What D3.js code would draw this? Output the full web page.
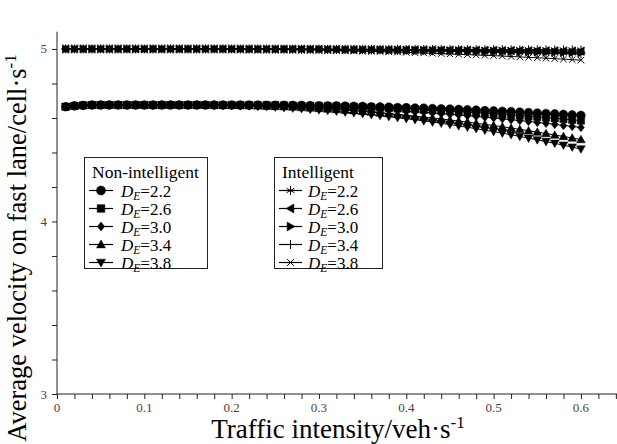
<!DOCTYPE html>
<html><head><meta charset="utf-8">
<script src="https://cdn.jsdelivr.net/npm/d3@7"></script>
<style>body{margin:0;background:#fff}svg{display:block}</style>
</head><body><svg id="c" width="617" height="444"></svg>
<script>
// ---- data ----
const traffic = [0.01,0.02,0.03,0.04,0.05,0.06,0.07,0.08,0.09,0.10,
 0.11,0.12,0.13,0.14,0.15,0.16,0.17,0.18,0.19,0.20,
 0.21,0.22,0.23,0.24,0.25,0.26,0.27,0.28,0.29,0.30,
 0.31,0.32,0.33,0.34,0.35,0.36,0.37,0.38,0.39,0.40,
 0.41,0.42,0.43,0.44,0.45,0.46,0.47,0.48,0.49,0.50,
 0.51,0.52,0.53,0.54,0.55,0.56,0.57,0.58,0.59,0.60];

const nonInt22 = [4.665,4.670,4.673,4.675,4.675,4.675,4.675,4.675,4.675,4.675,
 4.675,4.675,4.675,4.675,4.675,4.675,4.675,4.675,4.675,4.675,
 4.675,4.675,4.675,4.674,4.674,4.674,4.673,4.673,4.672,4.671,
 4.670,4.670,4.669,4.668,4.667,4.665,4.664,4.663,4.661,4.660,
 4.658,4.657,4.655,4.653,4.652,4.650,4.648,4.646,4.643,4.641,
 4.639,4.637,4.634,4.632,4.629,4.626,4.624,4.621,4.618,4.615];
const nonInt26 = [4.665,4.670,4.673,4.675,4.675,4.675,4.675,4.675,4.675,4.675,
 4.675,4.675,4.675,4.675,4.675,4.675,4.675,4.675,4.675,4.675,
 4.675,4.675,4.674,4.674,4.674,4.673,4.672,4.671,4.670,4.669,
 4.668,4.667,4.665,4.664,4.662,4.661,4.659,4.657,4.655,4.652,
 4.650,4.648,4.645,4.643,4.640,4.637,4.634,4.631,4.628,4.624,
 4.621,4.617,4.614,4.610,4.606,4.602,4.598,4.594,4.589,4.585];
const nonInt30 = [4.665,4.670,4.673,4.675,4.675,4.675,4.675,4.675,4.675,4.675,
 4.675,4.675,4.675,4.675,4.675,4.675,4.675,4.675,4.675,4.675,
 4.674,4.674,4.673,4.672,4.671,4.670,4.669,4.668,4.666,4.664,
 4.663,4.661,4.658,4.656,4.654,4.651,4.648,4.646,4.643,4.639,
 4.636,4.633,4.629,4.625,4.621,4.617,4.613,4.609,4.604,4.600,
 4.595,4.590,4.585,4.580,4.574,4.569,4.563,4.557,4.551,4.545];
const nonInt34 = [4.665,4.670,4.673,4.675,4.675,4.675,4.675,4.675,4.675,4.675,
 4.675,4.675,4.675,4.675,4.675,4.675,4.675,4.675,4.674,4.673,
 4.672,4.671,4.670,4.668,4.667,4.665,4.663,4.660,4.658,4.655,
 4.652,4.649,4.645,4.642,4.638,4.634,4.629,4.625,4.620,4.616,
 4.610,4.605,4.600,4.594,4.588,4.582,4.576,4.569,4.563,4.556,
 4.549,4.541,4.534,4.526,4.518,4.510,4.501,4.493,4.484,4.475];
const nonInt38 = [4.665,4.670,4.673,4.675,4.675,4.675,4.675,4.675,4.675,4.675,
 4.675,4.675,4.675,4.675,4.675,4.675,4.675,4.674,4.673,4.672,
 4.670,4.669,4.667,4.665,4.662,4.660,4.657,4.654,4.650,4.647,
 4.643,4.639,4.634,4.630,4.625,4.619,4.614,4.608,4.602,4.596,
 4.590,4.583,4.576,4.569,4.562,4.554,4.546,4.538,4.529,4.521,
 4.512,4.503,4.493,4.483,4.473,4.463,4.453,4.442,4.431,4.420];

const int22 = [5.000,5.000,5.000,5.000,5.000,5.000,5.000,5.000,5.000,5.000,
 5.000,5.000,5.000,5.000,5.000,5.000,5.000,5.000,5.000,5.000,
 5.000,5.000,5.000,5.000,5.000,5.000,5.000,5.000,5.000,5.000,
 4.999,4.999,4.999,4.999,4.999,4.999,4.999,4.999,4.999,4.998,
 4.998,4.998,4.998,4.998,4.998,4.998,4.997,4.997,4.997,4.997,
 4.997,4.996,4.996,4.996,4.996,4.996,4.995,4.995,4.995,4.995];
const int26 = [5.000,5.000,5.000,5.000,5.000,5.000,5.000,5.000,5.000,5.000,
 5.000,5.000,5.000,5.000,5.000,5.000,5.000,5.000,5.000,5.000,
 5.000,5.000,4.999,4.999,4.999,4.999,4.999,4.999,4.998,4.998,
 4.998,4.998,4.997,4.997,4.997,4.997,4.996,4.996,4.996,4.996,
 4.995,4.995,4.995,4.994,4.994,4.994,4.993,4.993,4.992,4.992,
 4.991,4.991,4.991,4.990,4.990,4.989,4.989,4.988,4.988,4.987];
const int30 = [5.000,5.000,5.000,5.000,5.000,5.000,5.000,5.000,5.000,5.000,
 5.000,5.000,5.000,5.000,5.000,5.000,5.000,5.000,5.000,5.000,
 5.000,4.999,4.999,4.999,4.999,4.999,4.998,4.998,4.998,4.998,
 4.997,4.997,4.996,4.996,4.996,4.995,4.995,4.994,4.994,4.993,
 4.993,4.992,4.991,4.991,4.990,4.990,4.989,4.988,4.987,4.987,
 4.986,4.985,4.984,4.983,4.983,4.982,4.981,4.980,4.979,4.978];
const int34 = [5.000,5.000,5.000,5.000,5.000,5.000,5.000,5.000,5.000,5.000,
 5.000,5.000,5.000,5.000,5.000,5.000,5.000,5.000,5.000,5.000,
 4.999,4.999,4.999,4.999,4.998,4.998,4.998,4.997,4.997,4.997,
 4.996,4.996,4.995,4.995,4.994,4.993,4.993,4.992,4.991,4.991,
 4.990,4.989,4.988,4.988,4.987,4.986,4.985,4.984,4.983,4.982,
 4.981,4.980,4.979,4.978,4.976,4.975,4.974,4.973,4.972,4.970];
const int38 = [5.000,5.000,5.000,5.000,5.000,5.000,5.000,5.000,5.000,5.000,
 5.000,5.000,5.000,5.000,5.000,5.000,5.000,5.000,4.999,4.999,
 4.999,4.998,4.998,4.997,4.997,4.996,4.995,4.995,4.994,4.993,
 4.992,4.991,4.990,4.988,4.987,4.986,4.985,4.983,4.982,4.980,
 4.978,4.977,4.975,4.973,4.971,4.969,4.967,4.965,4.963,4.961,
 4.959,4.956,4.954,4.951,4.949,4.946,4.944,4.941,4.938,4.935];

const legendLabels = ["2.2","2.6","3.0","3.4","3.8"];
const nonIntSeries = [nonInt22, nonInt26, nonInt30, nonInt34, nonInt38];
const intSeries = [int22, int26, int30, int34, int38];
const nonIntMarkers = ["circle","square","diamond","triUp","triDown"];
const intMarkers = ["asterisk","triLeft","triRight","plus","times"];
const xTickLabels = [0,0.1,0.2,0.3,0.4,0.5,0.6];
const yTickLabels = [3,4,5];

// ---- layout ----
const FONT = '"Liberation Serif"';
const svg = d3.select("#c");
const x = d3.scaleLinear().domain([0,0.65]).range([57,624.6]);
const y = d3.scaleLinear().domain([3,5.1]).range([394,31.7]);

function markerPath(type, r){
  switch(type){
    case "circle": return `M${-r},0A${r},${r} 0 1,0 ${r},0A${r},${r} 0 1,0 ${-r},0Z`;
    case "square": {const s=r*0.85; return `M${-s},${-s}H${s}V${s}H${-s}Z`;}
    case "diamond": {const s=r*1.0; return `M0,${-s}L${s*0.8},0L0,${s}L${-s*0.8},0Z`;}
    case "triUp": return `M0,${-r}L${r},${r*0.75}L${-r},${r*0.75}Z`;
    case "triDown": return `M0,${r}L${r},${-r*0.75}L${-r},${-r*0.75}Z`;
    case "triLeft": return `M${-r},0L${r*0.75},${-r}L${r*0.75},${r}Z`;
    case "triRight": return `M${r},0L${-r*0.75},${-r}L${-r*0.75},${r}Z`;
    case "asterisk": return `M0,${-r}V${r}M${-r*0.87},${-r*0.5}L${r*0.87},${r*0.5}M${-r*0.87},${r*0.5}L${r*0.87},${-r*0.5}`;
    case "plus": return `M${-r},0H${r}M0,${-r}V${r}`;
    case "times": return `M${-r*0.75},${-r*0.75}L${r*0.75},${r*0.75}M${-r*0.75},${r*0.75}L${r*0.75},${-r*0.75}`;
  }
}
const filled = t => ["circle","square","diamond","triUp","triDown","triLeft","triRight"].includes(t);
function drawMarker(g, type, r){
  g.append("path").attr("d", markerPath(type, r))
   .attr("fill", filled(type) ? "#000" : "none")
   .attr("stroke", "#000").attr("stroke-width", filled(type)?0.5:1);
}

// ---- axes ----
const axisColor = "#222";
const gx = svg.append("g").attr("transform", `translate(0,${y(3)})`);
gx.call(d3.axisBottom(x).tickValues(d3.range(0,0.641,0.02)).tickSize(5).tickFormat(""));
gx.call(g=>g.select(".domain").attr("d", `M${x(0)},0H617`));
gx.selectAll("line").attr("stroke", axisColor);
gx.select(".domain").attr("stroke", axisColor);
svg.append("g").selectAll("text").data(xTickLabels).join("text")
  .attr("x", d=>x(d)).attr("y", 412).attr("text-anchor","middle")
  .style("font-family", FONT).style("font-size","13px").attr("fill","#444")
  .text(d=>d===0?"0":d.toFixed(1));

const gy = svg.append("g").attr("transform", `translate(${x(0)},0)`);
gy.call(d3.axisLeft(y).tickValues(d3.range(3,5.01,0.2)).tickSize(5).tickFormat(""));
gy.call(g=>g.select(".domain").attr("d", `M0,${y(5.1)}V${y(3)}`));
gy.selectAll("line").attr("stroke", axisColor);
gy.select(".domain").attr("stroke", axisColor);
svg.append("g").selectAll("text").data(yTickLabels).join("text")
  .attr("x", 47).attr("y", d=>y(d)+4.5).attr("text-anchor","end")
  .style("font-family", FONT).style("font-size","13px").attr("fill","#444")
  .text(d=>d);

// axis titles
const xt = svg.append("text").attr("x", 338).attr("y", 438).attr("text-anchor","middle")
  .style("font-family", FONT).style("font-size","27px").attr("fill","#000");
xt.append("tspan").text("Traffic intensity/veh·s");
xt.append("tspan").attr("dy",-10).style("font-size","17px").text("-1");

const yt = svg.append("text").attr("transform","translate(26,248) rotate(-90)").attr("text-anchor","middle")
  .style("font-family", FONT).style("font-size","26.5px").attr("fill","#000");
yt.append("tspan").text("Average velocity on fast lane/cell·s");
yt.append("tspan").attr("dy",-10).style("font-size","17px").text("-1");

// ---- series ----
const line = d3.line().x((d,i)=>x(traffic[i])).y(d=>y(d));
const plot = svg.append("g");
function drawSeries(vals, type){
  plot.append("path").datum(vals).attr("d", line).attr("fill","none").attr("stroke","#000").attr("stroke-width",1);
  const g = plot.append("g");
  vals.forEach((v,i)=>{
    const m = g.append("g").attr("transform",`translate(${x(traffic[i])},${y(v)})`);
    drawMarker(m, type, 4.3);
  });
}
for(let k=4;k>=0;k--) drawSeries(intSeries[k], intMarkers[k]);
for(let k=4;k>=0;k--) drawSeries(nonIntSeries[k], nonIntMarkers[k]);

// ---- legends ----
function legend(x0, y0, w, h, title, titleX, lineX1, lineX2, textX, markers){
  const g = svg.append("g");
  g.append("rect").attr("x",x0).attr("y",y0).attr("width",w).attr("height",h)
   .attr("fill","#fff").attr("stroke","#222").attr("stroke-width",1);
  g.append("text").attr("x",titleX).attr("y",y0+20).style("font-family",FONT).style("font-size","17.5px").text(title);
  legendLabels.forEach((lab,i)=>{
    const cy = y0+33+i*18;
    g.append("line").attr("x1",lineX1).attr("x2",lineX2).attr("y1",cy).attr("y2",cy).attr("stroke","#000").attr("stroke-width",1.2);
    const m = g.append("g").attr("transform",`translate(${(lineX1+lineX2)/2},${cy})`);
    drawMarker(m, markers[i], 4.5);
    const t = g.append("text").attr("x",textX).attr("y",cy+6).style("font-family",FONT).style("font-size","17px");
    t.append("tspan").style("font-style","italic").text("D");
    t.append("tspan").style("font-style","italic").style("font-size","11.5px").attr("dy",3).text("E");
    t.append("tspan").attr("dy",-3).text("="+lab);
  });
}
legend(84.5, 157.5, 123, 111, "Non-intelligent", 92, 89, 113, 121, nonIntMarkers);
legend(274.5, 157.5, 108, 111, "Intelligent", 282, 279, 302, 308, intMarkers);
</script></body></html>
